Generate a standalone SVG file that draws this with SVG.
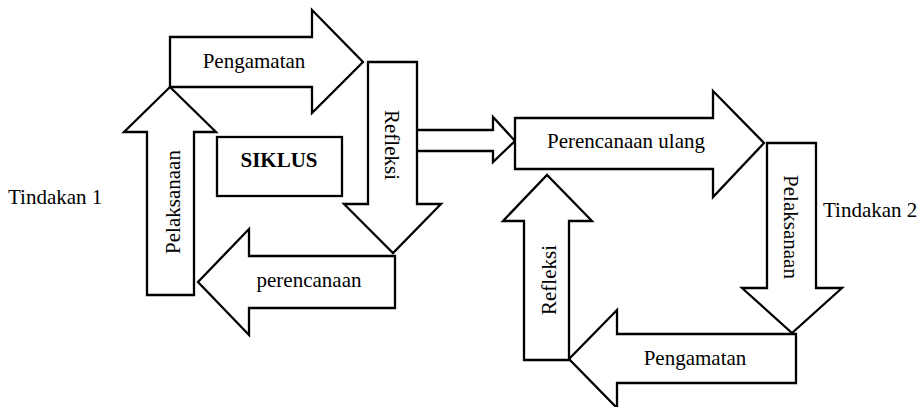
<svg xmlns="http://www.w3.org/2000/svg" width="920" height="407" viewBox="0 0 920 407">
<style>
.a{fill:#fff;stroke:#000;stroke-width:2.3;stroke-linejoin:miter}
.t{font-family:"Liberation Serif","Times New Roman",serif;font-size:21px;fill:#000}
.m{text-anchor:middle}
</style>
<rect width="920" height="407" fill="#fff"/>
<g id="connectors">
<g id="arrow-refleksi-to-ulang"><polygon class="a" points="416,130 493,130 493,117 515,141 493,162 493,151 416,151"/></g>
</g>
<g id="pengamatan1"><polygon class="a" points="170,37 312,37 312,10 363,62 312,113 312,87 170,87"/><text class="t m" x="254" y="68">Pengamatan</text></g>
<g id="pelaksanaan1"><polygon class="a" points="147,295 147,132 124,132 170,87 216,132 194,132 194,295"/><text class="t m" transform="translate(180,202) rotate(-90)">Pelaksanaan</text></g>
<g id="refleksi1"><polygon class="a" points="368,62 417,62 417,204 441,204 393,253 344,204 368,204"/><text class="t m" transform="translate(385,145) rotate(90)">Refleksi</text></g>
<g id="perencanaan1"><polygon class="a" points="395,256 249,256 249,229 198,282 249,335 249,308 395,308"/><text class="t m" x="309" y="287">perencanaan</text></g>
<g id="siklus"><rect class="a" x="217" y="137" width="125" height="59"/><text class="t m" x="279" y="167" font-weight="bold">SIKLUS</text></g>
<g id="tindakan1"><text class="t" x="8" y="204">Tindakan 1</text></g>
<g id="perencanaan-ulang"><polygon class="a" points="515,118 713,118 713,91 764,143 713,197 713,169 515,169"/><text class="t m" x="626" y="148">Perencanaan ulang</text></g>
<g id="pelaksanaan2"><polygon class="a" points="767,143 816,143 816,288 842,288 792,333 742,288 767,288"/><text class="t m" transform="translate(784,227) rotate(90)">Pelaksanaan</text></g>
<g id="pengamatan2"><polygon class="a" points="796,334 617,334 617,310 569,359 617,408 617,383 796,383"/><text class="t m" x="695" y="365">Pengamatan</text></g>
<g id="refleksi2"><polygon class="a" points="524,360 524,221 503,221 547,175 592,221 569,221 569,360"/><text class="t m" transform="translate(556,280) rotate(-90)">Refleksi</text></g>
<g id="tindakan2"><text class="t" x="823" y="217">Tindakan 2</text></g>
</svg>
